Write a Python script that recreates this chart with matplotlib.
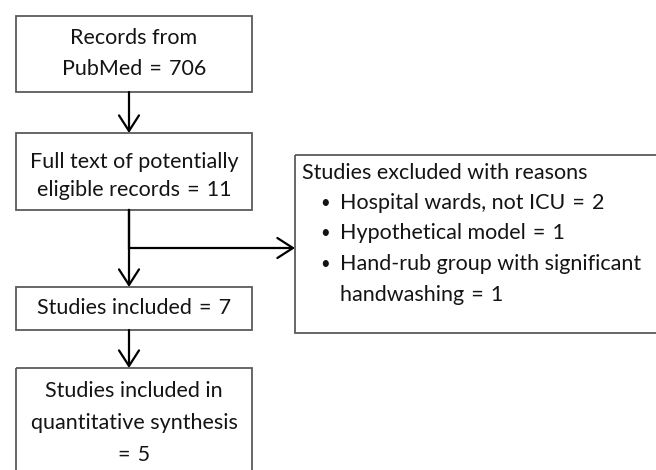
import matplotlib.pyplot as plt
from matplotlib.patches import Rectangle, FancyArrowPatch

plt.rcParams['font.family'] = ['Lato', 'DejaVu Sans']

EQ = '\u2004=\u2004'
# box texts
box_texts = [
    ['Records from', 'PubMed' + EQ + '706'],
    ['Full text of potentially', 'eligible records' + EQ + '11'],
    ['Studies included' + EQ + '7'],
    ['Studies included in', 'quantitative synthesis', '=\u20045'],
]
excl_title = 'Studies excluded with reasons'
excl_items = ['Hospital wards, not ICU' + EQ + '2',
              'Hypothetical model' + EQ + '1',
              'Hand-rub group with significant',
              'handwashing' + EQ + '1']

# layout in pixel coords (x, y_top, w, h)
boxes = [(16, 16, 236, 76), (16, 133, 236, 77), (16, 287, 236, 43), (16, 368, 236, 120)]
line_y = [[38, 69], [162, 190], [308], [391, 423, 455]]
excl_box = (295, 155, 380, 178)

fig = plt.figure(figsize=(6.56, 4.70), dpi=100)
ax = fig.add_axes([0, 0, 1, 1])
ax.set_xlim(0, 656)
ax.set_ylim(470, 0)
ax.axis('off')

fs = 15.5
edge = '#5a5a5a'
tc = '#141414'
for (x, y, w, h), lines, ys in zip(boxes, box_texts, line_y):
    ax.add_patch(Rectangle((x, y), w, h, fill=False, ec=edge, lw=1.3, clip_on=True))
    for t, yy in zip(lines, ys):
        ax.text(x + w / 2, yy, t, ha='center', va='center', fontsize=fs, color=tc)

x, y, w, h = excl_box
ax.add_patch(Rectangle((x, y), w, h, fill=False, ec=edge, lw=1.3, clip_on=True))
ax.text(302, 173, excl_title, ha='left', va='center', fontsize=fs, color=tc)
item_y = [203, 233, 264, 295]
for i, (t, yy) in enumerate(zip(excl_items, item_y)):
    if i < 3:
        ax.text(320, yy, '\u2022', ha='left', va='center', fontsize=12, color=tc)
    ax.text(340, yy, t, ha='left', va='center', fontsize=fs, color=tc)

cx = 129
def arrow(p0, p1):
    ax.add_patch(FancyArrowPatch(p0, p1, arrowstyle='->,head_length=7,head_width=4.5',
                                 mutation_scale=1.6, lw=1.6, color='black',
                                 shrinkA=0, shrinkB=0))

arrow((cx, 92), (cx, 133))
arrow((cx, 210), (cx, 287))
ax.plot([cx, cx], [210, 248], color='black', lw=1.6)
arrow((cx, 248), (295, 248))
arrow((cx, 330), (cx, 368))

fig.savefig('out.png', dpi=100)
